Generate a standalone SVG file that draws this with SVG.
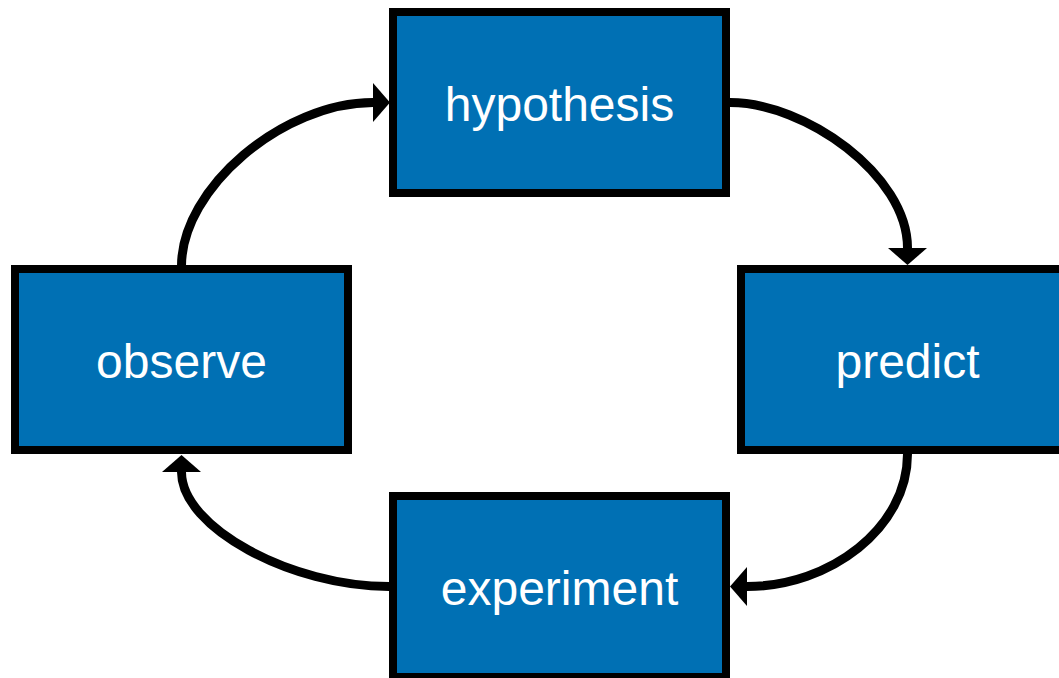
<svg xmlns="http://www.w3.org/2000/svg" width="1059" height="678" viewBox="0 0 1059 678">
<style>
.box{fill:#0070b4;stroke:#000;stroke-width:8}
.lbl{fill:#fff;font-family:"Liberation Sans",Arial,sans-serif;font-size:48px;text-anchor:middle}
.con{fill:none;stroke:#000;stroke-width:9}
</style>
<defs>
<marker id="ah" markerUnits="userSpaceOnUse" markerWidth="20" markerHeight="42" viewBox="0 -21 20 42" refX="0" refY="0" orient="auto">
<path d="M0,-19.5 L17,0 L0,19.5 z" fill="#000"/>
</marker>
</defs>
<rect width="1059" height="678" fill="#fff"/>
<g id="connectors">
<path class="con" marker-end="url(#ah)" d="M181.5,266 C181.5,188 283,102.5 373,102.5"/>
<path class="con" marker-end="url(#ah)" d="M730,102.5 C805,102.5 907.5,175 907.5,248"/>
<path class="con" marker-end="url(#ah)" d="M907.5,454 C907.5,528 830,586.5 747,586.5"/>
<path class="con" marker-end="url(#ah)" d="M389,586.5 C292,586.5 181.5,528 181.5,472"/>
</g>
<g id="hypothesis">
<rect class="box" x="393" y="12" width="333" height="181"/>
<text class="lbl" x="559.5" y="121">hypothesis</text>
</g>
<g id="predict">
<rect class="box" x="741" y="269" width="333" height="181"/>
<text class="lbl" x="907.5" y="378">predict</text>
</g>
<g id="experiment">
<rect class="box" x="393" y="496" width="333" height="181"/>
<text class="lbl" x="559.5" y="605">experiment</text>
</g>
<g id="observe">
<rect class="box" x="15" y="269" width="333" height="181"/>
<text class="lbl" x="181.5" y="378">observe</text>
</g>
</svg>
